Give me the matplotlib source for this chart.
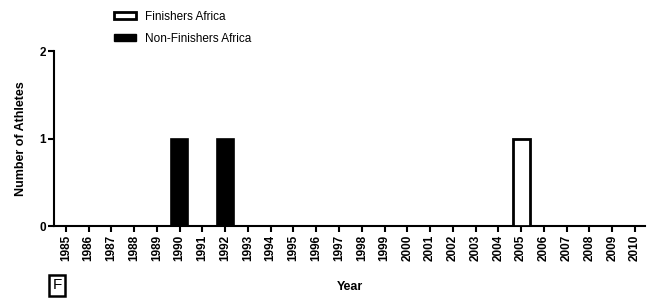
import matplotlib.pyplot as plt
from matplotlib.patches import Patch

plt.rcParams["font.family"] = ["Liberation Sans", "DejaVu Sans"]

years = list(range(1985, 2011))
finishers = [0, 0, 0, 0, 0, 0, 0, 0, 0, 0, 0, 0, 0, 0, 0, 0, 0, 0, 0, 0, 1, 0, 0, 0, 0, 0]
non_finishers = [0, 0, 0, 0, 0, 1, 0, 1, 0, 0, 0, 0, 0, 0, 0, 0, 0, 0, 0, 0, 0, 0, 0, 0, 0, 0]

fig = plt.figure(figsize=(6.48, 3.03), dpi=100)
ax = fig.add_axes([0.0833, 0.2525, 0.912, 0.579])

# Non-finishers (filled) and finishers (outlined)
nf_x = [y for y, v in zip(years, non_finishers) if v > 0]
nf_v = [v for v in non_finishers if v > 0]
f_x = [y for y, v in zip(years, finishers) if v > 0]
f_v = [v for v in finishers if v > 0]
ax.bar(nf_x, nf_v, width=0.75, color="black", edgecolor="black", linewidth=1.2, zorder=3)
ax.bar(f_x, f_v, width=0.75, color="white", edgecolor="black", linewidth=2, zorder=3)

ax.set_xlim(1984.48, 2010.44)
ax.set_ylim(0, 2)
ax.set_xticks(years)
ax.set_xticklabels([str(y) for y in years], rotation=90, fontsize=8.5, fontweight="bold")
ax.set_yticks([0, 1, 2])
ax.set_yticklabels(["0", "1", "2"], fontsize=8.5, fontweight="bold")
ax.tick_params(axis="both", direction="out", length=4, width=1.5, pad=2)

for side in ["top", "right"]:
    ax.spines[side].set_visible(False)
for side in ["left", "bottom"]:
    ax.spines[side].set_linewidth(1.5)

ax.set_xlabel("Year", fontsize=9, fontweight="bold", labelpad=14)
ax.set_ylabel("Number of Athletes", fontsize=9, fontweight="bold", labelpad=9)

handles = [
    Patch(facecolor="white", edgecolor="black", linewidth=2, label="Finishers Africa"),
    Patch(facecolor="black", edgecolor="black", label="Non-Finishers Africa"),
]
fig.legend(
    handles=handles,
    loc="upper left",
    bbox_to_anchor=(0.16, 1.0),
    frameon=False,
    fontsize=8.5,
    handlelength=1.8,
    handleheight=0.6,
    handletextpad=0.8,
    labelspacing=0.85,
)

fig.text(0.088, 0.035, "F", fontsize=11, ha="center", va="bottom",
         bbox=dict(boxstyle="square,pad=0.25", facecolor="white", edgecolor="black", linewidth=1.8))

fig.savefig("out.png", dpi=100)
